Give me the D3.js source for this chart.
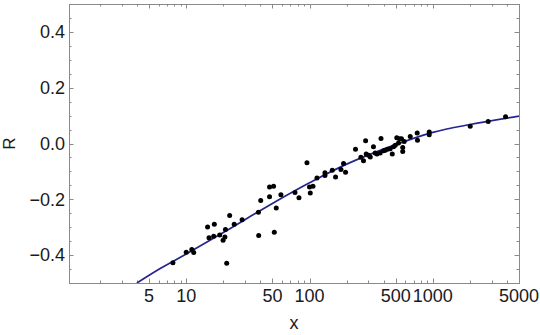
<!DOCTYPE html>
<html>
<head>
<meta charset="utf-8">
<script src="https://cdn.jsdelivr.net/npm/d3@7"></script>
<style>
  body { margin: 0; background: #fff; }
  text { font-family: "Liberation Sans", Arial, sans-serif; }
</style>
</head>
<body>
<div id="chart"></div>
<script>
// measured points (x, R)
var xVals = [7.8, 10.0, 11.1, 11.5, 14.9, 16.9, 15.3, 16.7, 18.7, 19.9, 20.6, 20.8, 22.5, 21.3, 24.5, 28.4,
             38.5, 38.7, 40.2, 47.4, 51.1, 47.4, 53.7, 51.8, 58.6, 76.2, 82.1, 95.3, 100, 106.6, 101.4, 114.9,
             133.4, 133.4, 152.9, 162.6, 179.8, 188.8, 196, 236, 274, 285, 288, 311, 330, 352, 380, 374, 398,
             429, 469, 480, 510, 537, 570, 570, 586, 557, 656, 747, 751, 935, 935, 2010, 2810, 3890,
             301, 341, 411, 451, 496, 527, 261];
var rVals = [-0.427, -0.390, -0.380, -0.391, -0.299, -0.289, -0.338, -0.332, -0.328, -0.347, -0.335, -0.308, -0.258, -0.429, -0.289, -0.273,
             -0.246, -0.330, -0.204, -0.156, -0.153, -0.191, -0.231, -0.318, -0.184, -0.176, -0.194, -0.069, -0.156, -0.153, -0.177, -0.124,
             -0.105, -0.115, -0.096, -0.120, -0.093, -0.072, -0.103, -0.021, -0.062, 0.010, -0.038, -0.048, -0.012, -0.038, 0.018, -0.034, -0.026,
             -0.021, -0.038, -0.012, 0.021, 0.017, -0.029, -0.014, 0.007, 0.017, 0.025, 0.038, 0.012, 0.041, 0.031, 0.062, 0.079, 0.096,
             -0.042, -0.034, -0.024, -0.019, -0.006, 0.002, -0.049];

// fitted curve
var fitX = [3.98, 6.15, 10, 20, 50, 100, 200, 500, 1000, 2000, 5000];
var fitR = [-0.5, -0.448, -0.396, -0.319, -0.215, -0.141, -0.074, -0.004, 0.040, 0.068, 0.098];

var xTickLabels = [5, 10, 50, 100, 500, 1000, 5000];
var yTickLabels = [-0.4, -0.2, 0.0, 0.2, 0.4];

var width = 540, height = 335;
var plotLeft = 69, plotRight = 519, plotTop = 4, plotBottom = 283;

var svg = d3.select("#chart")
            .append("svg")
              .attr("width", width)
              .attr("height", height);

var xScale = d3.scaleLog()
               .domain([1.12, 5000])
               .range([plotLeft, plotRight]);
var yScale = d3.scaleLinear()
               .domain([-0.5, 0.5])
               .range([plotBottom, plotTop]);

svg.append("clipPath")
   .attr("id", "plotclip")
   .append("rect")
     .attr("x", plotLeft).attr("y", plotTop)
     .attr("width", plotRight - plotLeft).attr("height", plotBottom - plotTop);

// tick positions
var xMajor = [], xMinor = [];
[1, 10, 100, 1000].forEach(function(p){
  for (var k = 1; k <= 9; k++) {
    var v = k * p;
    if (v < 1.12 || v > 5000) continue;
    if (k == 1 || k == 5) xMajor.push(v); else xMinor.push(v);
  }
});
var yMinor = d3.range(-9, 10, 1)
               .filter(function(i){ return i % 4 != 0; })
               .map(function(i){ return i * 0.05; });

var frameColor = "#8a8a8a";

var ticks = svg.append("g").attr("stroke", frameColor).attr("stroke-width", 1);
function xTick(v, len){
  var x = Math.round(xScale(v)) + 0.5;
  ticks.append("line").attr("x1", x).attr("x2", x).attr("y1", plotBottom).attr("y2", plotBottom - len);
  ticks.append("line").attr("x1", x).attr("x2", x).attr("y1", plotTop).attr("y2", plotTop + len);
}
function yTick(v, len){
  var y = Math.round(yScale(v)) + 0.5;
  ticks.append("line").attr("x1", plotLeft).attr("x2", plotLeft + len).attr("y1", y).attr("y2", y);
  ticks.append("line").attr("x1", plotRight).attr("x2", plotRight - len).attr("y1", y).attr("y2", y);
}
xMajor.forEach(function(v){ xTick(v, 4.5); });
xMinor.forEach(function(v){ xTick(v, 2.5); });
yTickLabels.forEach(function(v){ yTick(v, 4.5); });
yMinor.forEach(function(v){ yTick(v, 2.5); });

// frame
svg.append("rect")
   .attr("x", plotLeft + 0.5).attr("y", plotTop + 0.5)
   .attr("width", plotRight - plotLeft).attr("height", plotBottom - plotTop)
   .attr("fill", "none")
   .attr("stroke", frameColor);

// fitted curve
var line = d3.line()
             .x(function(d){ return xScale(d[0]); })
             .y(function(d){ return yScale(d[1]); })
             .curve(d3.curveCatmullRom);
svg.append("path")
   .datum(d3.zip(fitX, fitR))
   .attr("d", line)
   .attr("clip-path", "url(#plotclip)")
   .style("fill", "none")
   .style("stroke", "#25258f")
   .style("stroke-width", 1.7);

// points
svg.append("g")
   .attr("clip-path", "url(#plotclip)")
   .selectAll("circle")
   .data(d3.zip(xVals, rVals))
   .enter()
   .append("circle")
     .attr("cx", function(d){ return xScale(d[0]); })
     .attr("cy", function(d){ return yScale(d[1]); })
     .attr("r", 2.5)
     .attr("fill", "#000");

// tick labels
svg.selectAll(".xlab")
   .data(xTickLabels)
   .enter()
   .append("text")
     .attr("class", "xlab")
     .attr("x", function(d){ return xScale(d); })
     .attr("y", 302)
     .attr("text-anchor", "middle")
     .style("font-size", "18px")
     .style("fill", "#1a1a1a")
     .text(function(d){ return d; });

var fmt = d3.format(".1f");
svg.selectAll(".ylab")
   .data(yTickLabels)
   .enter()
   .append("text")
     .attr("class", "ylab")
     .attr("x", 65)
     .attr("y", function(d){ return yScale(d); })
     .attr("dy", "0.35em")
     .attr("text-anchor", "end")
     .style("font-size", "18px")
     .style("fill", "#1a1a1a")
     .text(function(d){ return fmt(d); });

// axis titles
svg.append("text")
   .attr("x", (plotLeft + plotRight) / 2)
   .attr("y", 329)
   .attr("text-anchor", "middle")
   .style("font-size", "18px")
   .style("fill", "#1a1a1a")
   .text("x");

svg.append("text")
   .attr("transform", "translate(15," + yScale(0) + ") rotate(-90)")
   .attr("text-anchor", "middle")
   .style("font-size", "17px")
   .style("fill", "#1a1a1a")
   .text("R");
</script>
</body>
</html>
